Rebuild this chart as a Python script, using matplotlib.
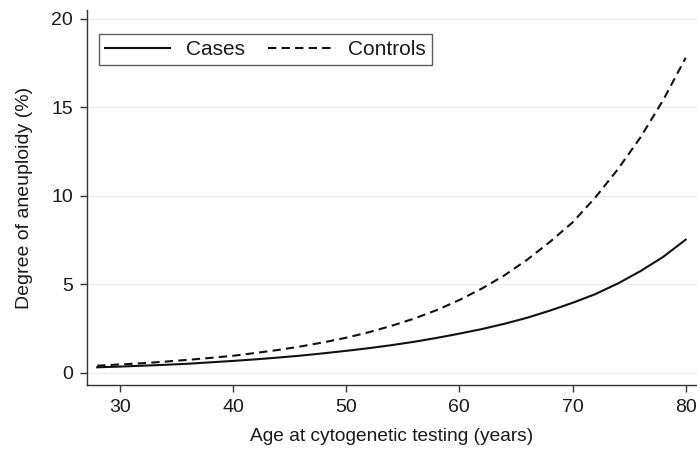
import matplotlib
matplotlib.use('Agg')
import matplotlib.pyplot as plt

# Values (age in years, aneuploidy in %)
ages = [28, 30, 32, 34, 36, 38, 40, 42, 44, 46, 48, 50, 52, 54,
        56, 58, 60, 62, 64, 66, 68, 70, 72, 74, 76, 78, 80]
cases = [0.32, 0.36, 0.41, 0.46, 0.52, 0.60, 0.68, 0.77, 0.87, 0.98,
         1.11, 1.25, 1.40, 1.57, 1.76, 1.98, 2.22, 2.48, 2.78, 3.12,
         3.52, 3.96, 4.45, 5.05, 5.75, 6.55, 7.53]
controls = [0.41, 0.48, 0.55, 0.64, 0.74, 0.85, 0.97, 1.13, 1.30, 1.50,
            1.73, 1.99, 2.30, 2.66, 3.07, 3.55, 4.12, 4.77, 5.52, 6.40,
            7.40, 8.50, 9.90, 11.5, 13.3, 15.4, 17.8]
xticks = [30, 40, 50, 60, 70, 80]
yticks = [0, 5, 10, 15, 20]

plt.rcParams['font.family'] = ['Liberation Sans', 'DejaVu Sans']
plt.rcParams['font.size'] = 14

fig = plt.figure(figsize=(6.97, 4.5), dpi=100)
ax = fig.add_axes([87 / 697, 65 / 450, 610 / 697, 375 / 450])

ax.plot(ages, cases, color='#111111', lw=1.5, ls='-', label='Cases')
ax.plot(ages, controls, color='#111111', lw=1.5, ls=(0, (4.0, 2.5)),
        label='Controls')

ax.set_xlim(27.1, 81.0)
ax.set_ylim(-0.68, 20.5)
ax.set_xticks(xticks)
ax.set_yticks(yticks)
ax.grid(axis='y', color='#ececec', lw=1.0)
ax.set_axisbelow(True)
for side in ['top', 'right']:
    ax.spines[side].set_visible(False)
for side in ['left', 'bottom']:
    ax.spines[side].set_color('#333333')
    ax.spines[side].set_linewidth(1.0)
ax.tick_params(direction='out', length=5, width=1.0, color='#333333',
               pad=5, labelsize=14, labelcolor='#1a1a1a')

ax.set_xlabel('Age at cytogenetic testing (years)', fontsize=13.8,
              labelpad=9, color='#1a1a1a')
ax.set_ylabel('Degree of aneuploidy (%)', fontsize=14, labelpad=13,
              color='#1a1a1a')

leg = ax.legend(loc='upper left', bbox_to_anchor=(0.0200, 0.936), ncol=2,
                frameon=True, fancybox=False, handlelength=3.1,
                handletextpad=0.75, columnspacing=1.1, borderpad=0.3,
                borderaxespad=0, fontsize=15)
leg.get_frame().set_edgecolor('#333333')
leg.get_frame().set_linewidth(1.0)
for t in leg.get_texts():
    t.set_color('#1a1a1a')

fig.savefig('out.png', dpi=100)
